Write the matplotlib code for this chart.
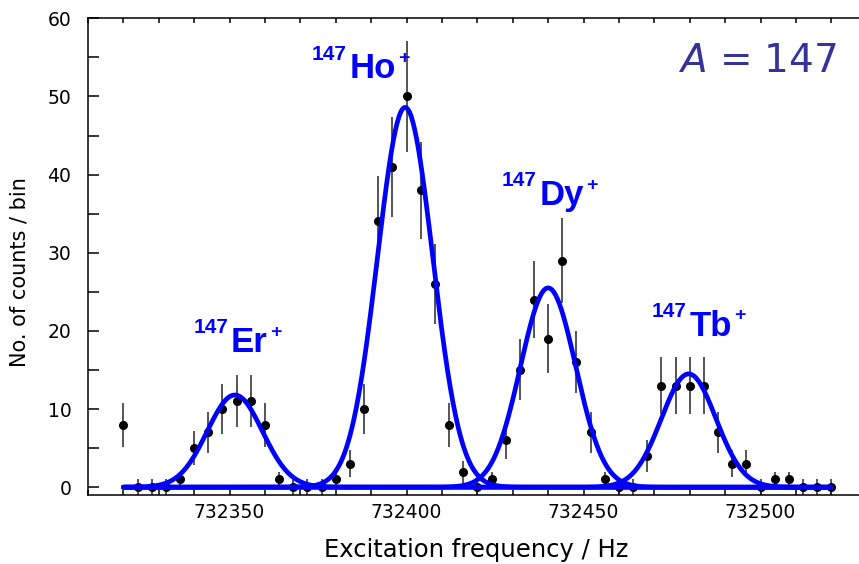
import numpy as np
import matplotlib
matplotlib.use('Agg')
import matplotlib.pyplot as plt
from matplotlib.ticker import MultipleLocator, FormatStrFormatter

# measured counts per 4 Hz bin
freq = [732320, 732324, 732328, 732332, 732336, 732340, 732344, 732348, 732352, 732356,
        732360, 732364, 732368, 732372, 732376, 732380, 732384, 732388, 732392, 732396,
        732400, 732404, 732408, 732412, 732416, 732420, 732424, 732428, 732432, 732436,
        732440, 732444, 732448, 732452, 732456, 732460, 732464, 732468, 732472, 732476,
        732480, 732484, 732488, 732492, 732496, 732500, 732504, 732508, 732512, 732516,
        732520]
counts = [8, 0, 0, 0, 1, 5, 7, 10, 11, 11,
          8, 1, 0, 0, 0, 1, 3, 10, 34, 41,
          50, 38, 26, 8, 2, 0, 1, 6, 15, 24,
          19, 29, 16, 7, 1, 0, 0, 4, 13, 13,
          13, 13, 7, 3, 3, 0, 1, 1, 0, 0,
          0]
errors = [2.8, 1, 1, 1, 1, 2.2, 2.6, 3.2, 3.3, 3.3,
          2.8, 1, 1, 1, 1, 1, 1.7, 3.2, 5.8, 6.4,
          7.1, 6.2, 5.1, 2.8, 1.4, 1, 1, 2.4, 3.9, 4.9,
          4.4, 5.4, 4.0, 2.6, 1, 1, 1, 2.0, 3.6, 3.6,
          3.6, 3.6, 2.6, 1.7, 1.7, 1, 1, 1, 1, 1,
          1]

# gaussian fits (one per isobar)
ions = ['Er', 'Ho', 'Dy', 'Tb']
centres = [732351.5, 732399.6, 732440.0, 732479.7]
amps = [11.8, 48.6, 25.5, 14.5]
sigmas = [7.8, 7.8, 7.8, 7.7]

# where the ion names sit (centre of symbol, baseline)
label_x = [732355.6, 732390.5, 732443.9, 732485.9]
label_y = [17.3, 52.3, 36.1, 19.4]

fig = plt.figure(figsize=(8.59, 5.64), dpi=100)
ax = fig.add_axes([0.1024, 0.1223, 0.9066, 0.8453])

ax.errorbar(freq, counts, yerr=errors, fmt='o', color='black', ms=5.5,
            ecolor='0.15', elinewidth=1.1, capsize=0, zorder=2)

xf = np.linspace(freq[0], freq[-1], 800)
for c, a, s in zip(centres, amps, sigmas):
    ax.plot(xf, a * np.exp(-0.5 * ((xf - c) / s) ** 2), color='#0000ff',
            lw=3.4, solid_capstyle='round', zorder=3)


def ion_label(x, y, sym):
    t = ax.text(x, y, sym, ha='center', va='baseline', fontsize=25,
                fontweight='bold', color='#0000ff', family='Liberation Sans')
    ax.annotate('147', xy=(0, y), xycoords=(t, 'data'), xytext=(-2, 13.5),
                textcoords='offset points', ha='right', va='baseline',
                fontsize=15, fontweight='bold', color='#0000ff', family='Liberation Sans')
    ax.annotate('+', xy=(1, y), xycoords=(t, 'data'), xytext=(1.5, 11),
                textcoords='offset points', ha='left', va='baseline',
                fontsize=14, fontweight='bold', color='#0000ff', family='Liberation Sans')


for x, y, sym in zip(label_x, label_y, ions):
    ion_label(x, y, sym)

ax.text(0.9617, 0.888, r'$\mathit{A}$ = 147', transform=ax.transAxes,
        ha='right', va='baseline', fontsize=28, color='#333399')

ax.set_xlim(732310, 732530)
ax.set_ylim(-1, 60)
ax.xaxis.set_major_locator(MultipleLocator(50))
ax.xaxis.set_minor_locator(MultipleLocator(10))
ax.xaxis.set_major_formatter(FormatStrFormatter('%d'))
ax.yaxis.set_major_locator(MultipleLocator(10))
ax.yaxis.set_minor_locator(MultipleLocator(5))

ax.tick_params(axis='x', which='both', direction='in', length=3.6, width=1.1,
               top=True, labelsize=13.5, pad=6)
ax.tick_params(axis='y', which='both', direction='in', length=8, width=1.1,
               right=False, labelsize=13.5, pad=12)
for sp in ax.spines.values():
    sp.set_linewidth(1.1)
ax.spines['right'].set_visible(False)

ax.set_ylabel('No. of counts / bin', fontsize=15)
ax.yaxis.set_label_coords(-0.0745, 0.468)
ax.set_xlabel('Excitation frequency / Hz', fontsize=17.5)
ax.xaxis.set_label_coords(0.4988, -0.09)

fig.savefig('out.png', dpi=100)
